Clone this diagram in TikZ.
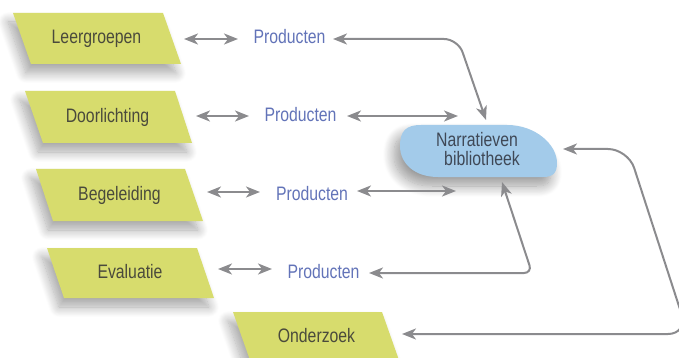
\documentclass[tikz,border=0pt]{standalone}
\usepackage{fontspec}
\setmainfont{Liberation Sans}[FakeStretch=0.81]
\usetikzlibrary{arrows.meta,shadows.blur}

\definecolor{boxgreen}{HTML}{D7DC6D}
\definecolor{libblue}{HTML}{A3CBEA}
\definecolor{linegray}{HTML}{8B8B8E}
\definecolor{prodblue}{HTML}{6273B8}
\definecolor{boxtext}{HTML}{4A4A3C}
\definecolor{libtext}{HTML}{3F4856}

\tikzset{
  card/.style={fill=boxgreen, blur shadow={shadow xshift=-5pt, shadow yshift=-9pt,
      shadow blur radius=10pt, shadow blur steps=14, shadow opacity=35}},
  libshape/.style={fill=libblue, blur shadow={shadow xshift=-6pt, shadow yshift=-9pt,
      shadow blur radius=11pt, shadow blur steps=14, shadow opacity=40}},
  cardlabel/.style={text=boxtext, font=\fontsize{19.5}{19.5}\selectfont, inner sep=0pt, anchor=base},
  prod/.style={text=prodblue, font=\fontsize{19.5}{19.5}\selectfont, inner sep=0pt, anchor=base},
  libtxt/.style={text=libtext, font=\fontsize{19.5}{18.3}\selectfont, inner sep=0pt, align=center},
  tip/.tip={Stealth[length=14pt,width=11pt,inset=4pt]},
  link/.style={draw=linegray, line width=2pt, tip-tip},
}

\begin{document}
\begin{tikzpicture}[x=1pt,y=-1pt]
  \useasboundingbox (0,0) rectangle (679,358);
  \clip (0,0) rectangle (679,358);

  % green slanted cards
  \path[card] (13,13) -- (163,13) -- (181,64) -- (31,64) -- cycle;
  \path[card] (25,91) -- (175,91) -- (192,143) -- (43,143) -- cycle;
  \path[card] (36,169) -- (185,169) -- (203,221) -- (53,221) -- cycle;
  \path[card] (47,248) -- (197,248) -- (214,298) -- (64,298) -- cycle;
  \path[card] (233,312) -- (382,312) -- (400,363) -- (251,363) -- cycle;

  \node[cardlabel] (leer)  at (96.5,44)  {Leergroepen};
  \node[cardlabel] (door)  at (107.5,123) {Doorlichting};
  \node[cardlabel] (beg)   at (119.5,200.5) {Begeleiding};
  \node[cardlabel] (eval)  at (130,278) {Evaluatie};
  \node[cardlabel] (ond)   at (316.5,342) {Onderzoek};

  % library shape
  \path[libshape] (400,146)
    .. controls (400,131) and (406,125) .. (421,125)
    -- (507,125)
    .. controls (536,125) and (557,145) .. (557,163)
    .. controls (557,173) and (553,177) .. (543,177)
    -- (438,177)
    .. controls (414,177) and (400,163) .. (400,146) -- cycle;
  \node[libtxt] (lib) at (477,149) {Narratieven\\\hspace*{10pt}bibliotheek};

  % product labels
  \node[prod] (p1) at (289.5,44)  {Producten};
  \node[prod] (p2) at (300.5,121.5) {Producten};
  \node[prod] (p3) at (312,200) {Producten};
  \node[prod] (p4) at (323.5,278) {Producten};

  % connector end points
  \coordinate (a1) at (184,39);  \coordinate (b1) at (238,39);
  \coordinate (a2) at (196,116); \coordinate (b2) at (249,116);
  \coordinate (a3) at (207,192); \coordinate (b3) at (260,192);
  \coordinate (a4) at (218,269); \coordinate (b4) at (272,269);
  \coordinate (c1) at (333,39);  \coordinate (t1) at (486,120);
  \coordinate (c2) at (347,116); \coordinate (t2) at (458,116);
  \coordinate (c3) at (357,191); \coordinate (t3) at (456,191);
  \coordinate (c4) at (369,273); \coordinate (t4) at (502,182);
  \coordinate (c5) at (402,334); \coordinate (t5) at (563,149);

  % short links between cards and products
  \draw[link] (a1) -- (b1);
  \draw[link] (a2) -- (b2);
  \draw[link] (a3) -- (b3);
  \draw[link] (a4) -- (b4);

  % links from products to the library
  \draw[link, rounded corners=14pt] (c1) -- (458,39) -- (t1);
  \draw[link] (c2) -- (t2);
  \draw[link] (c3) -- (t3);
  \draw[link, rounded corners=8pt] (c4) -- (532,273) -- (t4);

  % research loop
  \draw[link, rounded corners=20pt] (c5) -- (688,334) -- (628,149) -- (t5);
\end{tikzpicture}
\end{document}
